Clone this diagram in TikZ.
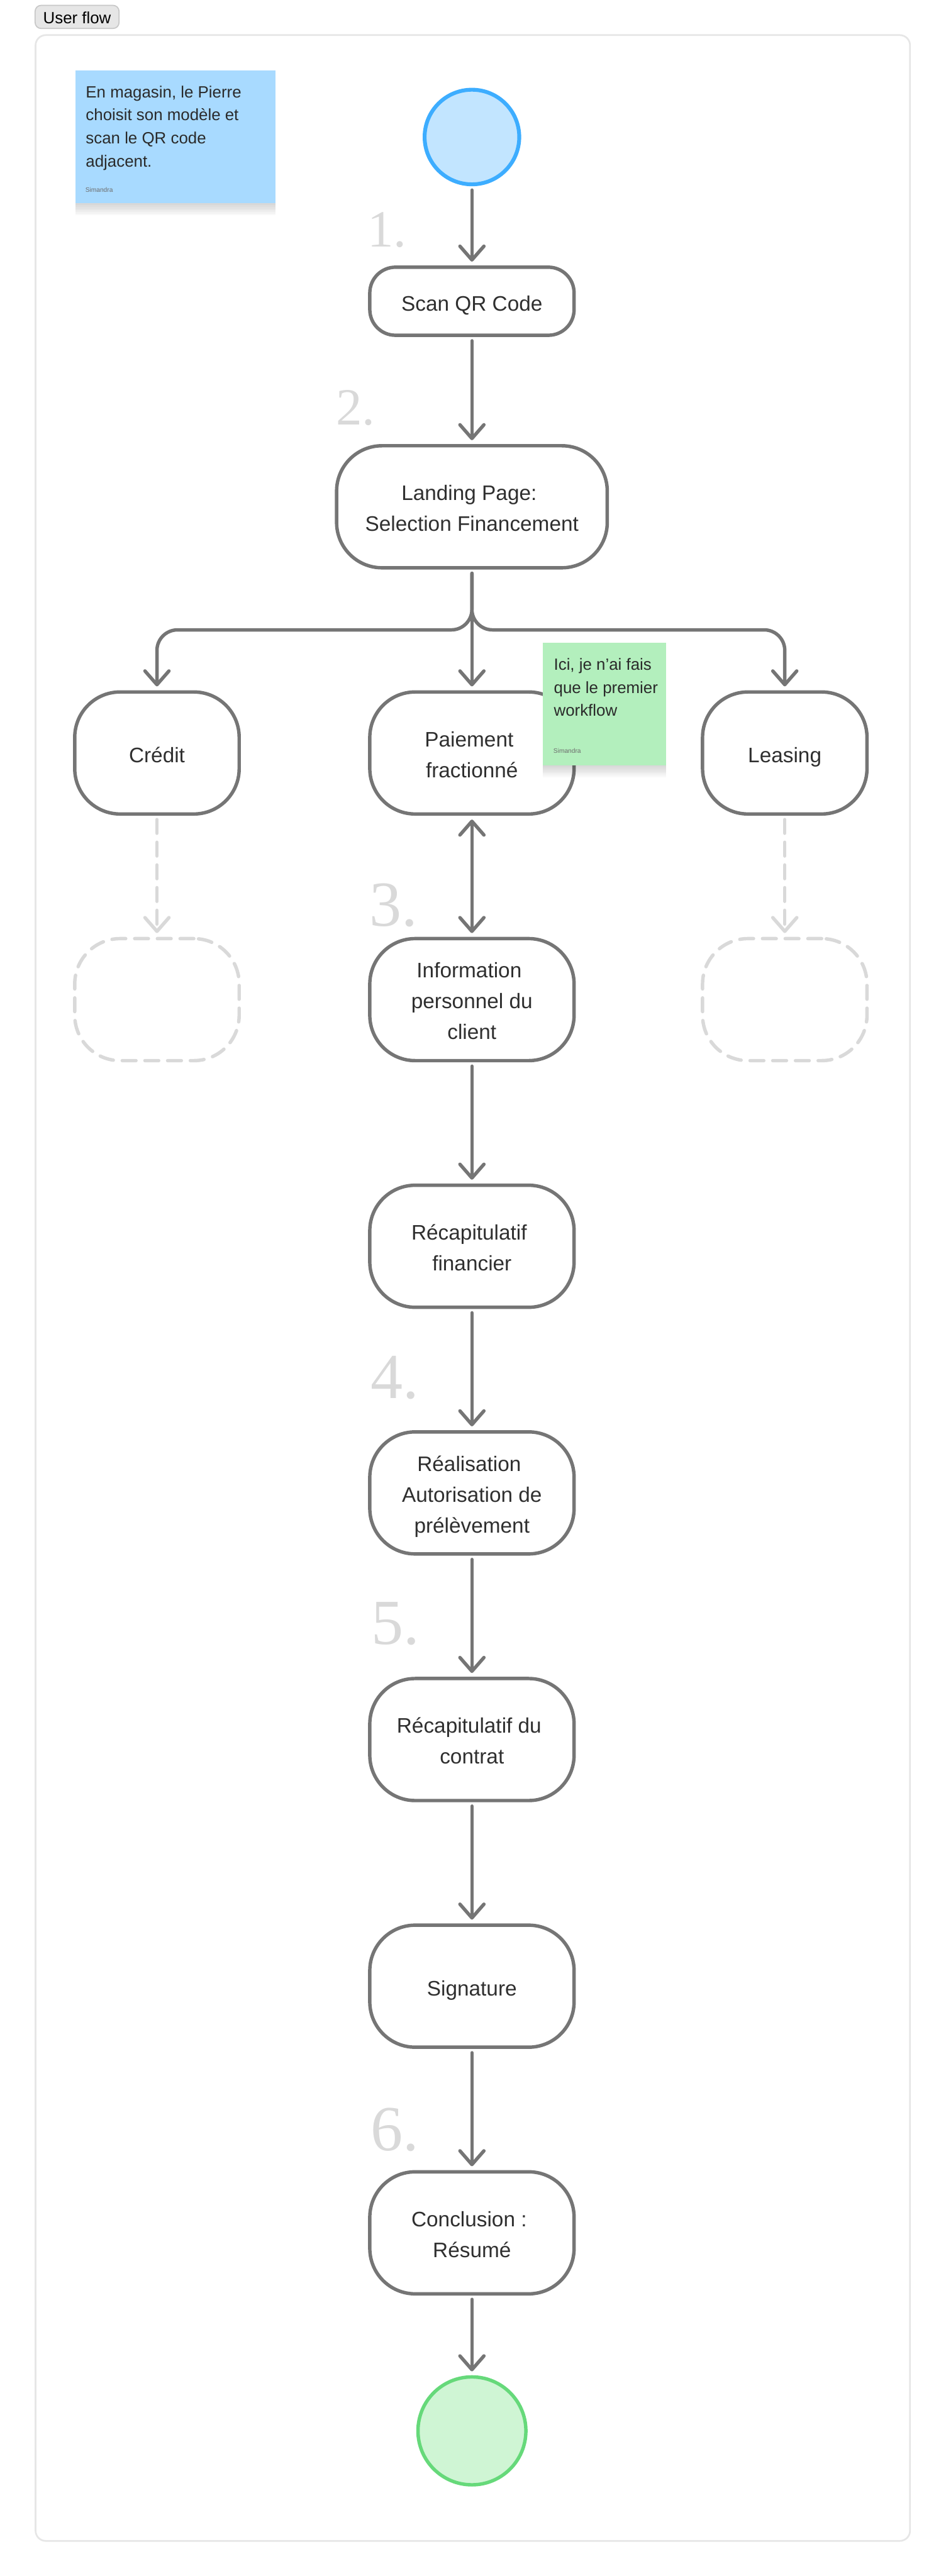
\documentclass[tikz,border=0pt]{standalone}
\usepackage{fontspec}
\setmainfont{Liberation Sans}
\newfontfamily\numfont{Liberation Serif}
\usetikzlibrary{positioning,arrows.meta,shadows}
\definecolor{edgegrey}{HTML}{757575}
\definecolor{ghostgrey}{HTML}{D9D9D9}
\definecolor{framegrey}{HTML}{E6E6E6}
\definecolor{tabgrey}{HTML}{C7C7C7}
\definecolor{stepink}{HTML}{2F2F2F}
\definecolor{noteblue}{HTML}{A8DAFF}
\definecolor{notegreen}{HTML}{B3EFBD}
\definecolor{startline}{HTML}{3DADFF}
\definecolor{startfill}{HTML}{C2E5FF}
\definecolor{endline}{HTML}{66D97A}
\definecolor{endfill}{HTML}{CFF5D4}
\newcommand{\trail}{\hspace*{6.5pt}}
\newcommand{\lift}{\rule{0pt}{26pt}}
\tikzset{
    stepbox/.style={draw=edgegrey,line width=4pt,fill=white,rectangle,rounded corners=53pt,
        minimum width=238.5pt,minimum height=142.5pt,inner sep=0pt,align=center,text=stepink,
        font=\fontsize{24.5}{36}\selectfont,
        execute at begin node={\rule{0pt}{28pt}},execute at end node={\rule[-5pt]{0pt}{0pt}}},
    sidebox/.style={stepbox,minimum width=192pt},
    ghostbox/.style={stepbox,minimum width=192pt,draw=ghostgrey,line width=4pt,
        dash pattern=on 16pt off 10.5pt,line cap=round},
    flow/.style={draw=edgegrey,line width=4pt,line cap=round,shorten >=4.5pt,shorten <=4.5pt,
        -{Straight Barb[length=16pt,width=28pt,round]}},
    ghostflow/.style={flow,draw=ghostgrey,dash pattern=on 16pt off 10.5pt},
    stepnum/.style={text=ghostgrey,inner sep=0pt,anchor=base west},
    softshade/.style={general shadow={shadow xshift=0pt,shadow yshift=-#1,fill=black,opacity=.022}},
    notebox/.style={rectangle,inner sep=0pt,softshade=2pt,softshade=4pt,softshade=6pt,
        softshade=8pt,softshade=10pt,softshade=12pt,softshade=14pt},
    notetext/.style={inner sep=0pt,align=left,anchor=west,text=stepink!90!black,
        font=\fontsize{19}{27}\selectfont},
    notename/.style={inner sep=0pt,anchor=west,text=stepink!70,font=\fontsize{7.5}{9}\selectfont},
}
\begin{document}
\begin{tikzpicture}[x=1pt,y=1pt]
    \useasboundingbox (0,0) rectangle (1104,-3008);
    \node[draw=tabgrey,line width=1.25pt,fill=framegrey,rounded corners=7pt,minimum width=98pt,
        minimum height=27pt,inner sep=0pt,font=\fontsize{19}{23}\selectfont,
        execute at begin node={\rule{0pt}{16pt}}] (tab) at (90,-19.75) {User flow};
    \node[draw=framegrey,line width=2pt,rounded corners=12pt,minimum width=1021pt,minimum height=2926pt,
        inner sep=0pt] (frame) at (552,-1504) {};

    \node[circle,draw=startline,line width=4.5pt,fill=startfill,minimum size=110.5pt,inner sep=0pt] (start) at (551,-160) {};
    \node[stepbox,minimum height=79.5pt,rounded corners=30pt,below=92.5pt of start] (scan) {Scan QR Code};
    \node[stepbox,minimum width=316pt,below=125pt of scan] (landing) {\lift Landing Page:\trail\\Selection Financement};
    \node[stepbox,below=141pt of landing] (paiement) {\lift Paiement\trail\\fractionné};
    \node[sidebox,left=148.5pt of paiement] (credit) {Crédit};
    \node[sidebox,right=146pt of paiement] (leasing) {Leasing};
    \node[stepbox,below=141.5pt of paiement] (info) {\lift Information\trail\\personnel du\trail\\client};
    \node[ghostbox,below=141.5pt of credit] (ghostcredit) {};
    \node[ghostbox,below=141.5pt of leasing] (ghostleasing) {};
    \node[stepbox,below=141.5pt of info] (recap) {\lift Récapitulatif\trail\\financier};
    \node[stepbox,below=141.5pt of recap] (auto) {\lift Réalisation\trail\\Autorisation de\trail\\prélèvement};
    \node[stepbox,below=141.5pt of auto] (contrat) {\lift Récapitulatif du\trail\\contrat};
    \node[stepbox,below=141.5pt of contrat] (signature) {Signature};
    \node[stepbox,below=141.5pt of signature] (conclusion) {\lift Conclusion :\trail\\Résumé};
    \node[circle,draw=endline,line width=4pt,fill=endfill,minimum size=126pt,inner sep=0pt,below=93pt of conclusion] (end) {};
    \coordinate[below=70.5pt of landing] (fork);

    \draw[flow] (start) -- (scan);
    \draw[flow] (scan) -- (landing);
    \draw[flow] (landing) -- (paiement);
    \draw[flow,rounded corners=24pt] (landing.south) -- (fork) -| (credit.north);
    \draw[flow,rounded corners=24pt] (landing.south) -- (fork) -| (leasing.north);
    \draw[flow,{Straight Barb[length=16pt,width=28pt,round]}-{Straight Barb[length=16pt,width=28pt,round]}] (paiement) -- (info);
    \draw[ghostflow] (credit) -- (ghostcredit);
    \draw[ghostflow] (leasing) -- (ghostleasing);
    \draw[flow] (info) -- (recap);
    \draw[flow] (recap) -- (auto);
    \draw[flow] (auto) -- (contrat);
    \draw[flow] (contrat) -- (signature);
    \draw[flow] (signature) -- (conclusion);
    \draw[flow] (conclusion) -- (end);

    \node[stepnum,font=\fontsize{61}{61}\numfont] (num1) at (429,-288) {1.};
    \node[stepnum,font=\fontsize{61}{61}\numfont] (num2) at (392,-496) {2.};
    \node[stepnum,font=\fontsize{75}{75}\numfont] (num3) at (431,-1081) {3.};
    \node[stepnum,font=\fontsize{75}{75}\numfont] (num4) at (432.5,-1633) {4.};
    \node[stepnum,font=\fontsize{75}{75}\numfont] (num5) at (433.5,-1920) {5.};
    \node[stepnum,font=\fontsize{75}{75}\numfont] (num6) at (433,-2511) {6.};

    \node[notebox,fill=noteblue,minimum width=234pt,minimum height=155.5pt] (note1) at (205,-159.75) {};
    \node[notetext] (note1text) at (100,-149.5) {En magasin, le Pierre\\choisit son modèle et\\scan le QR code\\adjacent.};
    \node[notename] (note1name) at (99.5,-221.5) {Simandra};
    \node[notebox,fill=notegreen,minimum width=144pt,minimum height=143pt] (note2) at (706,-822) {};
    \node[notetext] (note2text) at (646.5,-802.5) {Ici, je n’ai fais\\que le premier\\workflow};
    \node[notename] (note2name) at (646,-877) {Simandra};
\end{tikzpicture}
\end{document}
